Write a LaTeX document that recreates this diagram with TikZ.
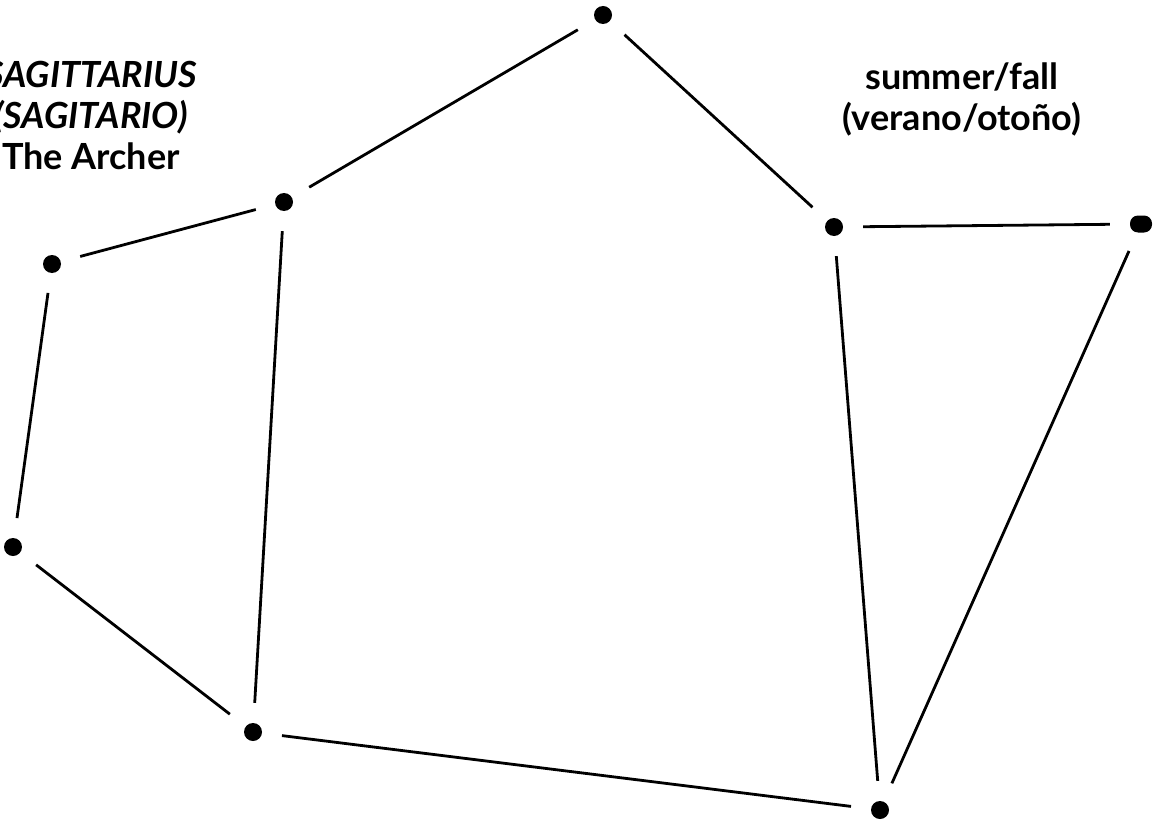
\documentclass[tikz,border=0pt]{standalone}
\usepackage{fontspec}
\setmainfont{Lato}
\usepackage{tikz}
\usetikzlibrary{positioning}

\begin{document}
\begin{tikzpicture}[
  x=1pt, y=-1pt,
  star/.style={circle, fill=black, inner sep=0pt, minimum size=18pt},
  link/.style={line width=2.8pt, shorten <=20pt, shorten >=20pt},
  title/.style={font=\fontsize{36}{41}\selectfont\bfseries, align=center}
]
\clip (0,0) rectangle (1153,821);
\useasboundingbox (0,0) rectangle (1153,821);

% stars
\node[star] (head)   at (603,15)  {};
\node[star] (bowtop) at (284,202) {};
\node[star] (tipup)  at (52,264)  {};
\node[star] (tiplow) at (13,547)  {};
\node[star] (bowlow) at (253,732) {};
\node[star] (neck)   at (834,227) {};
\node[star, minimum width=22pt, minimum height=17pt, rounded corners=8pt, rectangle] (tail) at (1141,224) {};
\node[star] (foot)   at (880,810) {};

% lines
\draw[link] (head)   -- (bowtop);
\draw[link] (head)   -- (neck);
\draw[link] (bowtop) -- (tipup);
\draw[link] (bowtop) -- (bowlow);
\draw[link] (tipup)  -- (tiplow);
\draw[link] (tiplow) -- (bowlow);
\draw[link] (bowlow) -- (foot);
\draw[link] (neck)   -- (tail);
\draw[link] (neck)   -- (foot);
\draw[link] (tail)   -- (foot);

% labels
\node[title] (name) at (91,115) {\itshape SAGITTARIUS\\\itshape (SAGITARIO)\\The Archer};
\node[title] (season) at (962,99) {summer/fall\\(verano/otoño)};
\end{tikzpicture}
\end{document}
